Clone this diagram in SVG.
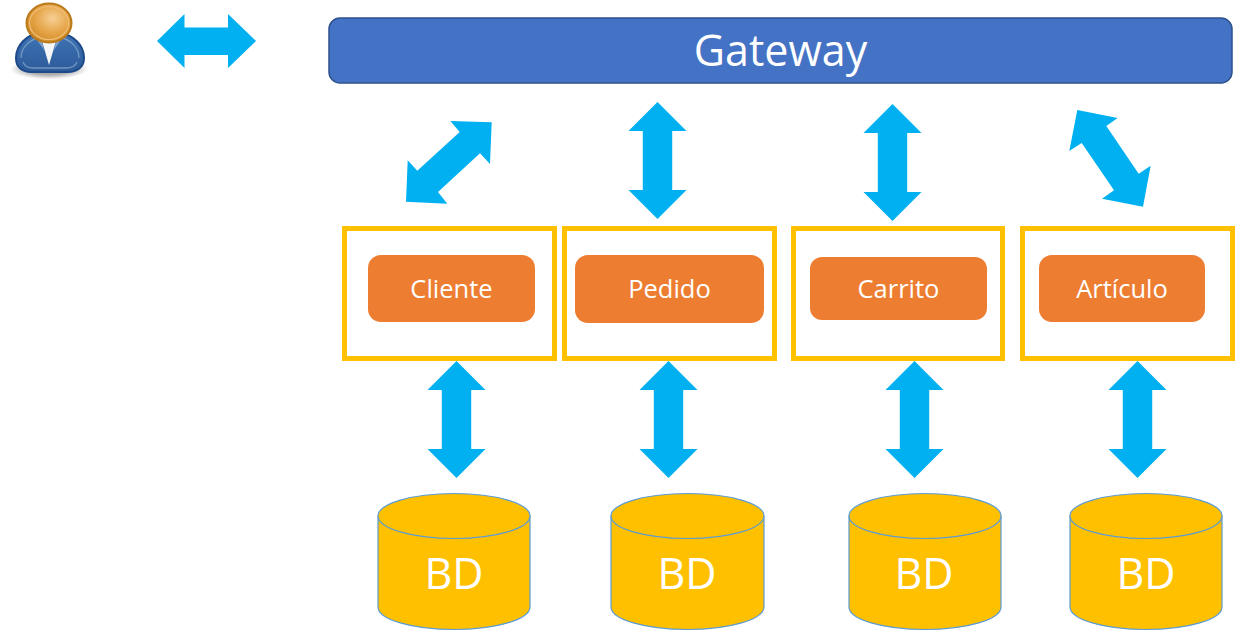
<svg xmlns="http://www.w3.org/2000/svg" width="1235" height="633" viewBox="0 0 1235 633">
<style>
text{font-family:"Open Sans","Noto Sans","Liberation Sans",sans-serif;fill:#fff;text-anchor:middle}
.arrow{fill:#00B0F0}
.frame{fill:none;stroke:#FFC000;stroke-width:5}
.svc{fill:#ED7D31}
.svc-t{font-size:25.5px}
.cyl{fill:#FFC000;stroke:#5B9BD5;stroke-width:1.2}
.cyl-t{font-size:43px}
</style>
<defs>
<radialGradient id="head" cx="0.58" cy="0.38" r="0.65"><stop offset="0" stop-color="#F6CF94"/><stop offset="0.6" stop-color="#E5A345"/><stop offset="1" stop-color="#D08A28"/></radialGradient>
<linearGradient id="body" x1="0" y1="0" x2="0" y2="1"><stop offset="0" stop-color="#3F74B4"/><stop offset="1" stop-color="#2C5A99"/></linearGradient>
<radialGradient id="shadow"><stop offset="0.55" stop-color="#777" stop-opacity="0.6"/><stop offset="1" stop-color="#888" stop-opacity="0"/></radialGradient>
<path id="vArrow" d="M0 0L29 29H14.700V88H29L0 117L-29 88H-14.700V29H-29Z"/>
</defs>
<g id="user">
<ellipse cx="49" cy="69" rx="39" ry="10.500" fill="url(#shadow)"/>
<path d="M16 58C16 44 28 35 38 33H61C72 35 84 44 84 58C84 68 76 72 68 72H31C23 72 16 68 16 58Z" fill="url(#body)" stroke="#1F4A8A" stroke-width="2"/>
<path d="M21 58C21 47 30 40 38 38M79 58C79 47 70 40 62 38M23 62C25 67 29 68 33 68H66C71 68 75 67 77 62" fill="none" stroke="#8FAFD2" stroke-width="1.300" opacity="0.7"/>
<path d="M42 41H56L49 65Z" fill="#F4F6F8"/>
<path d="M35 37L42 41L44 50ZM63 37L56 41L54 50Z" fill="#7FA3CC"/>
<ellipse cx="49" cy="23" rx="22.500" ry="19.500" fill="url(#head)" stroke="#B97A1C" stroke-width="2"/>
<ellipse cx="49" cy="23" rx="19.500" ry="16.500" fill="none" stroke="#F0BE76" stroke-width="1.200"/>
</g>
<g id="gateway">
<rect x="329" y="18" width="903" height="65" rx="11" fill="#4472C4" stroke="#2F528F" stroke-width="1.500"/>
<text x="780.500" y="65.500" font-size="43">Gateway</text>
</g>
<g id="connectors">
<path class="arrow" d="M157 41L184.500 14V27.500H228V14L256 41L228 68V55H184.500V68Z"/>
<path class="arrow" d="M450.300 121L491.700 122.300L490 164L480 153.300L438 192L447.300 203.700L406 201.700L407.700 160.300L417.300 170.700L459.700 132Z"/>
<path class="arrow" d="M1077.300 110L1117.700 118L1106.300 126L1138.700 173.700L1150.700 165.700L1143 206.700L1102 198.700L1114 190.300L1081.700 143L1069.300 151Z"/>
<use href="#vArrow" class="arrow" x="657.500" y="102"/>
<use href="#vArrow" class="arrow" x="892.500" y="104"/>
<use href="#vArrow" class="arrow" x="456.500" y="361"/>
<use href="#vArrow" class="arrow" x="668.500" y="361"/>
<use href="#vArrow" class="arrow" x="914.500" y="361"/>
<use href="#vArrow" class="arrow" x="1137.500" y="361"/>
</g>
<g id="cliente">
<rect class="frame" x="344.500" y="228.500" width="210" height="130"/>
<rect class="svc" x="368" y="255" width="167" height="67" rx="13"/>
<text class="svc-t" x="451.500" y="297.500">Cliente</text>
</g>
<g id="pedido">
<rect class="frame" x="564.500" y="228.500" width="210" height="130"/>
<rect class="svc" x="575" y="255" width="189" height="68" rx="13"/>
<text class="svc-t" x="669.500" y="297.500">Pedido</text>
</g>
<g id="carrito">
<rect class="frame" x="793.500" y="228.500" width="209" height="130"/>
<rect class="svc" x="810" y="257" width="177" height="63" rx="12"/>
<text class="svc-t" x="898.500" y="297.500">Carrito</text>
</g>
<g id="articulo">
<rect class="frame" x="1022.500" y="228.500" width="210" height="130"/>
<rect class="svc" x="1039" y="255" width="166" height="67" rx="13"/>
<text class="svc-t" x="1122" y="297.500">Artículo</text>
</g>
<g id="bd-cliente">
<path class="cyl" d="M378 516A76 22.500 0 0 1 530 516V607A76 22.500 0 0 1 378 607Z"/>
<path class="cyl" d="M378 516A76 22.500 0 0 0 530 516"/>
<text class="cyl-t" x="454" y="589">BD</text>
</g>
<g id="bd-pedido">
<path class="cyl" d="M611 516A76.500 22.500 0 0 1 764 516V607A76.500 22.500 0 0 1 611 607Z"/>
<path class="cyl" d="M611 516A76.500 22.500 0 0 0 764 516"/>
<text class="cyl-t" x="687" y="589">BD</text>
</g>
<g id="bd-carrito">
<path class="cyl" d="M849 516A76 22.500 0 0 1 1001 516V607A76 22.500 0 0 1 849 607Z"/>
<path class="cyl" d="M849 516A76 22.500 0 0 0 1001 516"/>
<text class="cyl-t" x="924" y="589">BD</text>
</g>
<g id="bd-articulo">
<path class="cyl" d="M1070 516A76 22.500 0 0 1 1222 516V607A76 22.500 0 0 1 1070 607Z"/>
<path class="cyl" d="M1070 516A76 22.500 0 0 0 1222 516"/>
<text class="cyl-t" x="1146" y="589">BD</text>
</g>
</svg>
